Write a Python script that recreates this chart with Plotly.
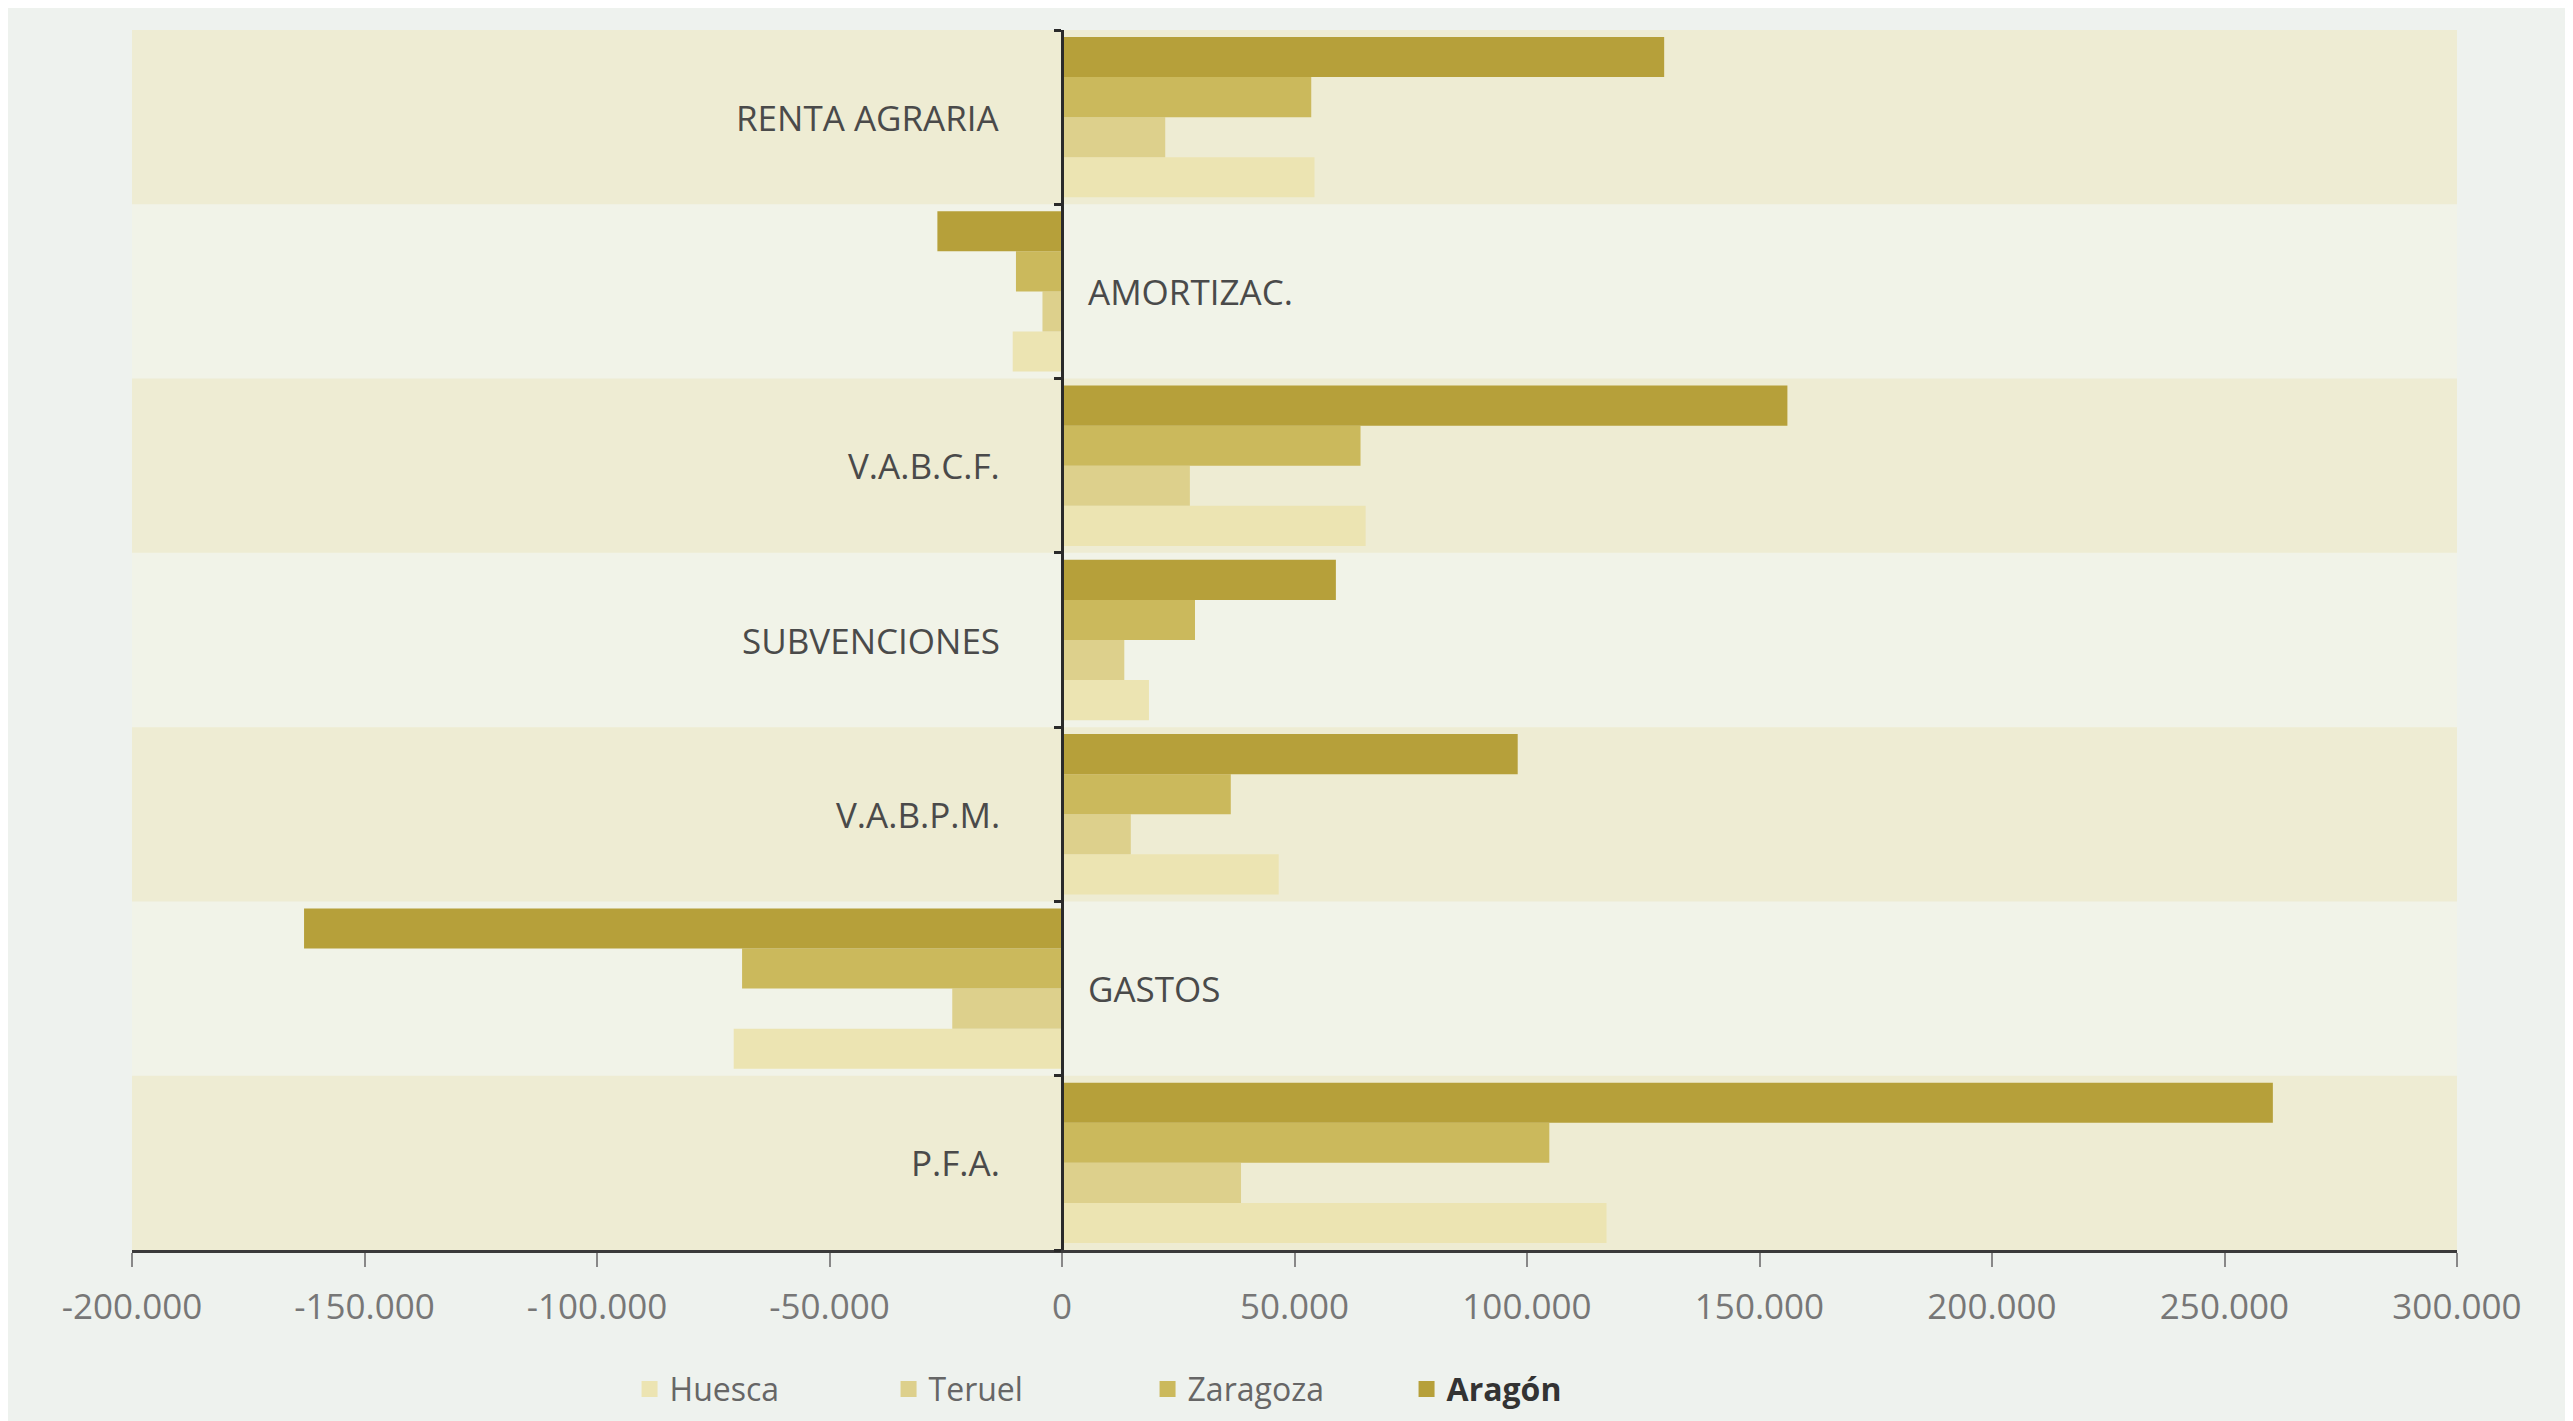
import plotly.graph_objects as go

categories = ["RENTA AGRARIA", "AMORTIZAC.", "V.A.B.C.F.", "SUBVENCIONES", "V.A.B.P.M.", "GASTOS", "P.F.A."]
huesca = [54300, -10600, 65300, 18700, 46600, -70600, 117100]
teruel = [22200, -4200, 27500, 13400, 14800, -23600, 38500]
zaragoza = [53600, -9900, 64200, 28600, 36300, -68800, 104800]
aragon = [129500, -26800, 156000, 58900, 98000, -163000, 260400]

series_names = ["Huesca", "Teruel", "Zaragoza", "<b><span style='color:#333333'>Aragón</span></b>"]
series_values = [huesca, teruel, zaragoza, aragon]
series_colors = ["#ece4b2", "#ddd08c", "#cbb95c", "#b6a03a"]

tick_vals = [-200000, -150000, -100000, -50000, 0, 50000, 100000, 150000, 200000, 250000, 300000]
tick_text = ["-200.000", "-150.000", "-100.000", "-50.000", "0", "50.000", "100.000",
             "150.000", "200.000", "250.000", "300.000"]

x_range = [-200000, 300000]
bottom_to_top = categories[::-1]

fig = go.Figure()
for name, vals, col in zip(series_names, series_values, series_colors):
    fig.add_trace(go.Bar(
        y=categories, x=vals, name=name, orientation="h",
        marker=dict(color=col, line=dict(width=0)), showlegend=False,
    ))

# legend entries with square swatches
for name, col in zip(series_names, series_colors):
    fig.add_trace(go.Scatter(
        x=[None], y=[None], mode="markers", name=name,
        marker=dict(symbol="square", size=26, color=col), showlegend=True,
    ))

# alternating background bands
for i, cat in enumerate(categories):
    if i % 2 == 0:
        idx = bottom_to_top.index(cat)
        fig.add_shape(type="rect", xref="paper", x0=0, x1=1, yref="y",
                      y0=idx - 0.5, y1=idx + 0.5, fillcolor="#eeecd3",
                      line=dict(width=0), layer="below")

# category labels next to the zero line, on the side opposite the bars
for cat, v in zip(categories, aragon):
    fig.add_annotation(x=0, y=cat, text=cat, showarrow=False,
                       xanchor="right" if v >= 0 else "left",
                       xshift=-60 if v >= 0 else 24,
                       font=dict(family="Open Sans", size=35, color="#4a4a4a"))

zero_frac = (0 - x_range[0]) / (x_range[1] - x_range[0])

fig.update_layout(
    width=2573, height=1421,
    margin=dict(l=124, r=124, t=22, b=133),
    paper_bgcolor="#eef2ee",
    plot_bgcolor="#f1f3e8",
    barmode="group", bargap=0.08, bargroupgap=0,
    font=dict(family="Open Sans", color="#555555"),
    xaxis=dict(range=x_range, tickvals=tick_vals, ticktext=tick_text,
               showgrid=False, zeroline=False, showline=True,
               linecolor="#3a3a3a", linewidth=3, ticks="outside",
               ticklen=14, tickcolor="#888888", tickwidth=2,
               tickfont=dict(size=35, color="#777777"), ticklabelstandoff=10),
    yaxis=dict(categoryorder="array", categoryarray=bottom_to_top,
               range=[-0.5, len(categories) - 0.5],
               showticklabels=False, showgrid=False, anchor="free",
               position=zero_frac, showline=True, linecolor="#2a2a2a",
               linewidth=3, ticks="outside", tickson="boundaries",
               ticklen=7, tickwidth=3, tickcolor="#2a2a2a"),
    legend=dict(orientation="h", x=0.214, xanchor="left", y=-0.114,
                yanchor="middle", font=dict(size=32, color="#666666"),
                bgcolor="rgba(0,0,0,0)", entrywidth=214, itemwidth=30),
    showlegend=True,
)

fig.write_html("out.html")
